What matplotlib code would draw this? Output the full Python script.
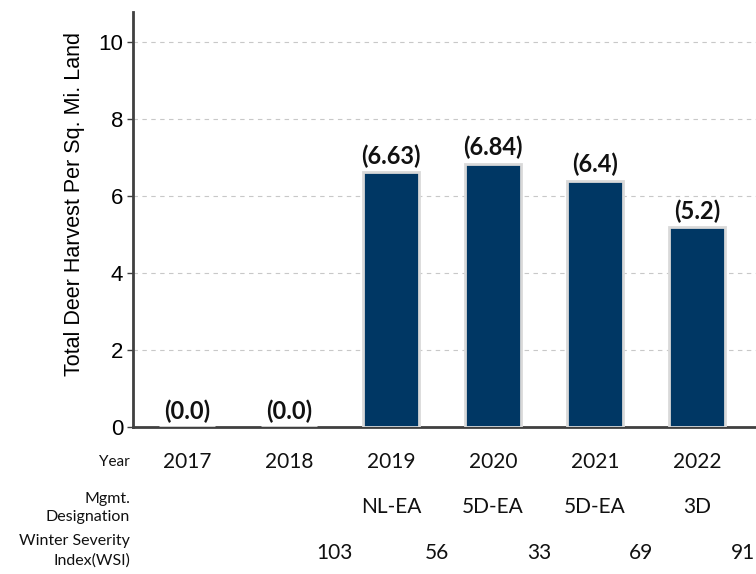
import matplotlib
matplotlib.use("Agg")
import matplotlib.pyplot as plt
import matplotlib.transforms as mtransforms

years = ["2017", "2018", "2019", "2020", "2021", "2022"]
harvest = [0.0, 0.0, 6.63, 6.84, 6.4, 5.2]
bar_labels = ["(0.0)", "(0.0)", "(6.63)", "(6.84)", "(6.4)", "(5.2)"]
mgmt = ["", "", "NL-EA", "5D-EA", "5D-EA", "3D"]
wsi = ["103", "56", "33", "69", "91"]

fig = plt.figure(figsize=(7.56, 5.74), dpi=100)
ax = fig.add_axes([133/756, (574-427)/574, 1 - 133/756, (427-12)/574])

x = list(range(len(years)))
ax.bar(x, harvest, width=0.55, color="#003764", edgecolor="#d9d9d9", linewidth=2, zorder=3)

for xi, v, lab in zip(x, harvest, bar_labels):
    ax.annotate(lab, (xi, v), xytext=(0, 3), textcoords="offset points",
                ha="center", va="bottom", fontsize=17, fontweight="bold",
                family="Lato", color="#111111", zorder=4)

ax.set_xlim(-0.53, 5.58)
ax.set_ylim(0, 10.78)
ax.set_yticks([0, 2, 4, 6, 8, 10])
ax.set_yticklabels(["0", "2", "4", "6", "8", "10"], family="Liberation Sans", fontsize=16)
ax.tick_params(axis="y", length=4, width=1, color="#404040", pad=3)
ax.set_xticks([])
ax.grid(axis="y", linestyle=(0, (4, 4)), color="#c8c8c8", linewidth=0.8, zorder=0)
ax.set_ylabel("Total Deer Harvest Per Sq. Mi. Land", family="Liberation Sans", fontsize=15.5)
ax.yaxis.set_label_coords(-(133 - 85) / 623, (427 - 204) / 415)

for side in ["top", "right"]:
    ax.spines[side].set_visible(False)
ax.spines["left"].set_color("#404040")
ax.spines["left"].set_linewidth(2)
ax.spines["bottom"].set_color("#404040")
ax.spines["bottom"].set_linewidth(2)

trans = mtransforms.blended_transform_factory(ax.transData, fig.transFigure)
def fy(py):
    return 1 - py / 574

lab_x = 130 / 756
tfont = dict(family="Lato", color="#111111")
fig.text(lab_x, fy(462), "Year", ha="right", va="center", fontsize=11, **tfont)
fig.text(lab_x, fy(508), "Mgmt.\nDesignation", ha="right", va="center", fontsize=11.5,
         linespacing=1.45, **tfont)
fig.text(lab_x, fy(551), "Winter Severity\nIndex(WSI)", ha="right", va="center", fontsize=11.5,
         linespacing=1.45, **tfont)

for xi, yr in zip(x, years):
    ax.text(xi, fy(462), yr, transform=trans, ha="center", va="center", fontsize=15, **tfont)
for xi, m in zip(x, mgmt):
    if m:
        ax.text(xi, fy(507), m, transform=trans, ha="center", va="center", fontsize=15, **tfont)
for i, w in enumerate(wsi):
    ax.text(i + 1.45, fy(553), w, transform=trans, ha="center", va="center", fontsize=15, **tfont)

fig.savefig("out.png", dpi=100)
